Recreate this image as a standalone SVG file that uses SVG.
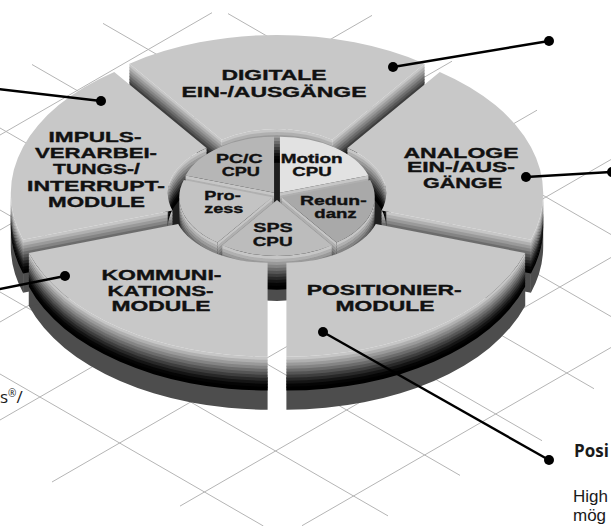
<svg xmlns="http://www.w3.org/2000/svg" width="611" height="526" viewBox="0 0 611 526">
<style>
.gl{stroke:#b5b5b5;stroke-width:1;fill:none}
.top{fill:#c8c8c8}
.sh{fill:#4d4d4d}
.k0{fill:#c6c6c6}.k1{fill:#b0b0b0}.k2{fill:#9a9a9a}.k3{fill:#848484}.k4{fill:#6c6c6c}.k5{fill:#555555}.k6{fill:#3e3e3e}.k7{fill:#282828}.k8{fill:#141414}.k9{fill:#050505}.k10{fill:#000000}
.lb{font-family:"Liberation Sans",Arial,sans-serif;font-weight:bold;font-size:14.5px;fill:#111;stroke:#111;stroke-width:0.35;text-anchor:middle}
.pl{font-size:12.5px}
.cn{stroke:#000;stroke-width:2.4;fill:none}
.dot{fill:#000}
.tx{font-family:"Open Sans","Liberation Sans",sans-serif;font-size:17px;fill:#1a1a1a}
.tb{font-family:"Liberation Sans",Arial,sans-serif;font-size:17px;fill:#1a1a1a}
</style>
<defs>
<g id="s-dig"><path d="M221.75,139.70 A94,56 0 0 1 332.25,139.70 L332.25,143.50 A94,56 0 0 0 221.75,143.50 Z"/><path d="M129.46,63.65 L221.75,139.70 L221.75,143.50 L129.46,67.45 Z"/><path d="M424.54,63.65 L332.25,139.70 L332.25,143.50 L424.54,67.45 Z"/></g>
<g id="s-ana"><path d="M543.22,193.29 A251,150 0 0 1 530.94,239.64 L530.94,243.44 A251,150 0 0 0 543.22,197.09 Z"/><path d="M347.47,147.99 A94,56 0 0 1 386.22,193.29 L386.22,197.09 A94,56 0 0 0 347.47,151.79 Z"/><path d="M381.62,210.59 L530.94,239.64 L530.94,243.44 L381.62,214.39 Z"/></g>
<g id="s-imp"><path d="M23.06,239.64 A251,150 0 0 1 10.78,193.29 L10.78,197.09 A251,150 0 0 0 23.06,243.44 Z"/><path d="M167.78,193.29 A94,56 0 0 1 206.53,147.99 L206.53,151.79 A94,56 0 0 0 167.78,197.09 Z"/><path d="M23.06,239.64 L172.38,210.59 L172.38,214.39 L23.06,243.44 Z"/></g>
<g id="s-kom"><path d="M267.60,356.71 A251,150 0 0 1 28.88,253.06 L28.88,256.86 A251,150 0 0 0 267.60,360.51 Z"/></g>
<g id="s-pos"><path d="M525.12,253.06 A251,150 0 0 1 286.40,356.71 L286.40,360.51 A251,150 0 0 0 525.12,256.86 Z"/></g>
<g id="s-mot"><path d="M279.94,192.76 L368.39,175.46 L368.39,179.26 L279.94,196.56 Z"/></g>
<g id="s-red"><path d="M374.76,197.24 A93,56 0 0 1 336.43,242.54 L336.43,246.34 A93,56 0 0 0 374.76,201.04 Z"/><path d="M281.76,197.24 L336.43,242.54 L336.43,246.34 L281.76,201.04 Z"/></g>
<g id="s-sps"><path d="M331.67,245.30 A93,56 0 0 1 222.33,245.30 L222.33,249.10 A93,56 0 0 0 331.67,249.10 Z"/></g>
<g id="s-pro"><path d="M217.57,242.54 A93,56 0 0 1 179.24,197.24 L179.24,201.04 A93,56 0 0 0 217.57,246.34 Z"/><path d="M272.24,197.24 L217.57,242.54 L217.57,246.34 L272.24,201.04 Z"/></g>
<g id="s-pcc"><path d="M274.06,192.76 L185.61,175.46 L185.61,179.26 L274.06,196.56 Z"/></g>
</defs>
<rect width="611" height="526" fill="#fff"/>
<g id="grid" class="gl">
<line x1="228" y1="13.6" x2="611" y2="234.5"/>
<line x1="103" y1="23.4" x2="611" y2="316.5"/>
<line x1="32" y1="64.5" x2="594" y2="388.7"/>
<line x1="0" y1="128" x2="542" y2="440.7"/>
<line x1="0" y1="210" x2="460" y2="475.4"/>
<line x1="0" y1="292" x2="388" y2="515.9"/>
<line x1="0" y1="374" x2="263.4" y2="526"/>
<line x1="0" y1="135" x2="212" y2="12.7"/>
<line x1="0" y1="230" x2="372" y2="15.4"/>
<line x1="0" y1="322" x2="452" y2="61.2"/>
<line x1="0" y1="420" x2="537" y2="110.2"/>
<line x1="52" y1="482" x2="611" y2="159.5"/>
<line x1="180" y1="506.1" x2="611" y2="257.5"/>
<line x1="302" y1="525.7" x2="611" y2="347.5"/>
</g>
<g id="shadows" class="sh">
<path d="M267.60,376.71 A251,150 0 0 1 28.88,273.06 L28.88,306.06 A251,150 0 0 0 267.60,409.71 Z"/>
<path d="M28.88,273.06 L178.20,244.01 L178.20,277.01 L28.88,306.06 Z"/>
<path d="M525.12,273.06 A251,150 0 0 1 286.40,376.71 L286.40,409.71 A251,150 0 0 0 525.12,306.06 Z"/>
<path d="M525.12,273.06 L375.80,244.01 L375.80,277.01 L525.12,306.06 Z"/>
<path d="M543.22,213.29 A251,150 0 0 1 530.94,259.64 L530.94,292.64 A251,150 0 0 0 543.22,246.29 Z"/>
<path d="M381.62,230.59 L530.94,259.64 L530.94,292.64 L381.62,263.59 Z"/>
<path d="M23.06,259.64 A251,150 0 0 1 10.78,213.29 L10.78,246.29 A251,150 0 0 0 23.06,292.64 Z"/>
<path d="M23.06,259.64 L172.38,230.59 L172.38,263.59 L23.06,292.64 Z"/>
</g>
<ellipse id="hole" cx="277" cy="207" rx="114" ry="70" fill="#1e1e1e"/>
<g id="n-digitale">
<use href="#s-dig" class="k0"/><use href="#s-dig" class="k1" y="3"/><use href="#s-dig" class="k2" y="6"/><use href="#s-dig" class="k3" y="9"/><use href="#s-dig" class="k4" y="12"/><use href="#s-dig" class="k5" y="15"/><use href="#s-dig" class="k6" y="18"/><use href="#s-dig" class="k7" y="21"/><use href="#s-dig" class="k8" y="24"/><use href="#s-dig" class="k9" y="27"/><use href="#s-dig" class="k10" y="30"/>
<path class="top" d="M129.46,63.65 A251,150 0 0 1 424.54,63.65 L332.25,139.70 A94,56 0 0 0 221.75,139.70 Z"/>
<text class="lb" x="274" y="79.5" textLength="105" lengthAdjust="spacingAndGlyphs">DIGITALE</text>
<text class="lb" x="274" y="96.5" textLength="185" lengthAdjust="spacingAndGlyphs">EIN-/AUSGÄNGE</text>
</g>
<g id="n-analoge">
<use href="#s-ana" class="k0"/><use href="#s-ana" class="k1" y="3"/><use href="#s-ana" class="k2" y="6"/><use href="#s-ana" class="k3" y="9"/><use href="#s-ana" class="k4" y="12"/><use href="#s-ana" class="k5" y="15"/><use href="#s-ana" class="k6" y="18"/><use href="#s-ana" class="k7" y="21"/><use href="#s-ana" class="k8" y="24"/><use href="#s-ana" class="k9" y="27"/><use href="#s-ana" class="k10" y="30"/>
<path class="top" d="M439.76,71.94 A251,150 0 0 1 530.94,239.64 L381.62,210.59 A94,56 0 0 0 347.47,147.99 Z"/>
<text class="lb" x="461" y="157.5" textLength="115" lengthAdjust="spacingAndGlyphs">ANALOGE</text>
<text class="lb" x="461" y="172" textLength="108" lengthAdjust="spacingAndGlyphs">EIN-/AUS-</text>
<text class="lb" x="462.5" y="187.5" textLength="79" lengthAdjust="spacingAndGlyphs">GÄNGE</text>
</g>
<g id="n-impuls">
<use href="#s-imp" class="k0"/><use href="#s-imp" class="k1" y="3"/><use href="#s-imp" class="k2" y="6"/><use href="#s-imp" class="k3" y="9"/><use href="#s-imp" class="k4" y="12"/><use href="#s-imp" class="k5" y="15"/><use href="#s-imp" class="k6" y="18"/><use href="#s-imp" class="k7" y="21"/><use href="#s-imp" class="k8" y="24"/><use href="#s-imp" class="k9" y="27"/><use href="#s-imp" class="k10" y="30"/>
<path class="top" d="M23.06,239.64 A251,150 0 0 1 114.24,71.94 L206.53,147.99 A94,56 0 0 0 172.38,210.59 Z"/>
<text class="lb" x="95" y="141.5" textLength="93" lengthAdjust="spacingAndGlyphs">IMPULS-</text>
<text class="lb" x="96" y="158" textLength="122" lengthAdjust="spacingAndGlyphs">VERARBEI-</text>
<text class="lb" x="96.5" y="174" textLength="87" lengthAdjust="spacingAndGlyphs">TUNGS-/</text>
<text class="lb" x="96" y="190.5" textLength="138" lengthAdjust="spacingAndGlyphs">INTERRUPT-</text>
<text class="lb" x="96.5" y="207" textLength="97" lengthAdjust="spacingAndGlyphs">MODULE</text>
</g>
<path id="pie-shadow" class="sh" d="M331.67,278.30 A93,56 0 0 1 222.33,278.30 L222.33,290.30 A93,56 0 0 0 331.67,290.30 Z"/>
<g id="n-motion">
<use href="#s-mot" class="k0"/><use href="#s-mot" class="k1" y="3"/><use href="#s-mot" class="k2" y="6"/><use href="#s-mot" class="k3" y="9"/><use href="#s-mot" class="k4" y="12"/><use href="#s-mot" class="k5" y="15"/><use href="#s-mot" class="k6" y="18"/><use href="#s-mot" class="k7" y="21"/><use href="#s-mot" class="k8" y="24"/><use href="#s-mot" class="k9" y="27"/><use href="#s-mot" class="k10" y="30"/>
<path fill="#e2e2e2" d="M279.94,192.76 L279.94,136.76 A93,56 0 0 1 368.39,175.46 Z"/>
<text class="lb pl" x="311.7" y="162.7" textLength="62" lengthAdjust="spacingAndGlyphs">Motion</text>
<text class="lb pl" x="312" y="176" textLength="39.4" lengthAdjust="spacingAndGlyphs">CPU</text>
</g>
<g id="n-pcc">
<use href="#s-pcc" class="k0"/><use href="#s-pcc" class="k1" y="3"/><use href="#s-pcc" class="k2" y="6"/><use href="#s-pcc" class="k3" y="9"/><use href="#s-pcc" class="k4" y="12"/><use href="#s-pcc" class="k5" y="15"/><use href="#s-pcc" class="k6" y="18"/><use href="#s-pcc" class="k7" y="21"/><use href="#s-pcc" class="k8" y="24"/><use href="#s-pcc" class="k9" y="27"/><use href="#s-pcc" class="k10" y="30"/>
<path fill="#b6b6b6" d="M274.06,192.76 L185.61,175.46 A93,56 0 0 1 274.06,136.76 Z"/>
<text class="lb pl" x="239.3" y="162.7" textLength="46.7" lengthAdjust="spacingAndGlyphs">PC/C</text>
<text class="lb pl" x="240.8" y="176" textLength="38.3" lengthAdjust="spacingAndGlyphs">CPU</text>
</g>
<g id="n-redundanz">
<use href="#s-red" class="k0"/><use href="#s-red" class="k1" y="3"/><use href="#s-red" class="k2" y="6"/><use href="#s-red" class="k3" y="9"/><use href="#s-red" class="k4" y="12"/><use href="#s-red" class="k5" y="15"/><use href="#s-red" class="k6" y="18"/><use href="#s-red" class="k7" y="21"/><use href="#s-red" class="k8" y="24"/><use href="#s-red" class="k9" y="27"/><use href="#s-red" class="k10" y="30"/>
<path fill="#a9a9a9" d="M281.76,197.24 L370.21,179.94 A93,56 0 0 1 336.43,242.54 Z"/>
<text class="lb pl" x="333.3" y="205" textLength="66.7" lengthAdjust="spacingAndGlyphs">Redun-</text>
<text class="lb pl" x="335.5" y="218.3" textLength="42.4" lengthAdjust="spacingAndGlyphs">danz</text>
</g>
<g id="n-prozess">
<use href="#s-pro" class="k0"/><use href="#s-pro" class="k1" y="3"/><use href="#s-pro" class="k2" y="6"/><use href="#s-pro" class="k3" y="9"/><use href="#s-pro" class="k4" y="12"/><use href="#s-pro" class="k5" y="15"/><use href="#s-pro" class="k6" y="18"/><use href="#s-pro" class="k7" y="21"/><use href="#s-pro" class="k8" y="24"/><use href="#s-pro" class="k9" y="27"/><use href="#s-pro" class="k10" y="30"/>
<path fill="#c3c3c3" d="M272.24,197.24 L217.57,242.54 A93,56 0 0 1 183.79,179.94 Z"/>
<text class="lb pl" x="222.5" y="200" textLength="36.4" lengthAdjust="spacingAndGlyphs">Pro-</text>
<text class="lb pl" x="223.8" y="213.3" textLength="39" lengthAdjust="spacingAndGlyphs">zess</text>
</g>
<g id="n-sps">
<use href="#s-sps" class="k0"/><use href="#s-sps" class="k1" y="3"/><use href="#s-sps" class="k2" y="6"/><use href="#s-sps" class="k3" y="9"/><use href="#s-sps" class="k4" y="12"/><use href="#s-sps" class="k5" y="15"/><use href="#s-sps" class="k6" y="18"/><use href="#s-sps" class="k7" y="21"/><use href="#s-sps" class="k8" y="24"/><use href="#s-sps" class="k9" y="27"/><use href="#s-sps" class="k10" y="30"/>
<path fill="#bcbcbc" d="M277,200 L331.67,245.30 A93,56 0 0 1 222.33,245.30 Z"/>
<text class="lb pl" x="273" y="232.3" textLength="39.4" lengthAdjust="spacingAndGlyphs">SPS</text>
<text class="lb pl" x="272.7" y="245.7" textLength="40" lengthAdjust="spacingAndGlyphs">CPU</text>
</g>
<g id="n-kommunikation">
<use href="#s-kom" class="k0"/><use href="#s-kom" class="k1" y="3"/><use href="#s-kom" class="k2" y="6"/><use href="#s-kom" class="k3" y="9"/><use href="#s-kom" class="k4" y="12"/><use href="#s-kom" class="k5" y="15"/><use href="#s-kom" class="k6" y="18"/><use href="#s-kom" class="k7" y="21"/><use href="#s-kom" class="k8" y="24"/><use href="#s-kom" class="k9" y="27"/><use href="#s-kom" class="k10" y="30"/>
<path class="top" d="M267.60,356.71 A251,150 0 0 1 28.88,253.06 L178.20,224.01 A94,56 0 0 0 267.60,262.71 Z"/>
<text class="lb" x="161.5" y="279.5" textLength="120" lengthAdjust="spacingAndGlyphs">KOMMUNI-</text>
<text class="lb" x="160.5" y="295.5" textLength="106" lengthAdjust="spacingAndGlyphs">KATIONS-</text>
<text class="lb" x="161" y="311" textLength="99" lengthAdjust="spacingAndGlyphs">MODULE</text>
</g>
<g id="n-positionier">
<use href="#s-pos" class="k0"/><use href="#s-pos" class="k1" y="3"/><use href="#s-pos" class="k2" y="6"/><use href="#s-pos" class="k3" y="9"/><use href="#s-pos" class="k4" y="12"/><use href="#s-pos" class="k5" y="15"/><use href="#s-pos" class="k6" y="18"/><use href="#s-pos" class="k7" y="21"/><use href="#s-pos" class="k8" y="24"/><use href="#s-pos" class="k9" y="27"/><use href="#s-pos" class="k10" y="30"/>
<path class="top" d="M525.12,253.06 A251,150 0 0 1 286.40,356.71 L286.40,262.71 A94,56 0 0 0 375.80,224.01 Z"/>
<text class="lb" x="384.2" y="294.5" textLength="155" lengthAdjust="spacingAndGlyphs">POSITIONIER-</text>
<text class="lb" x="385" y="310.5" textLength="99" lengthAdjust="spacingAndGlyphs">MODULE</text>
</g>
<g id="connectors">
<path class="cn" d="M-5,88.7 L101,101"/>
<path class="cn" d="M393,67 L549,41"/>
<path class="cn" d="M526,177 L612,172"/>
<path class="cn" d="M-5,290 L65,276"/>
<path class="cn" d="M323,332 L549,460"/>
<circle class="dot" cx="101" cy="101" r="5"/>
<circle class="dot" cx="393" cy="67" r="5"/>
<circle class="dot" cx="549" cy="41" r="5"/>
<circle class="dot" cx="526" cy="177" r="5"/>
<circle class="dot" cx="612" cy="172" r="5"/>
<circle class="dot" cx="65" cy="276" r="5"/>
<circle class="dot" cx="323" cy="332" r="5"/>
<circle class="dot" cx="549" cy="460" r="5"/>
</g>
<g id="captions">
<text class="tx" x="574" y="457" font-weight="bold" font-size="18">Posi</text>
<text class="tb" x="573" y="501.5">High</text>
<text class="tb" x="573" y="521">mög</text>
<text class="tx" x="0" y="403">s<tspan font-size="10" dy="-6">®</tspan><tspan dy="6">/</tspan></text>
</g>
</svg>
